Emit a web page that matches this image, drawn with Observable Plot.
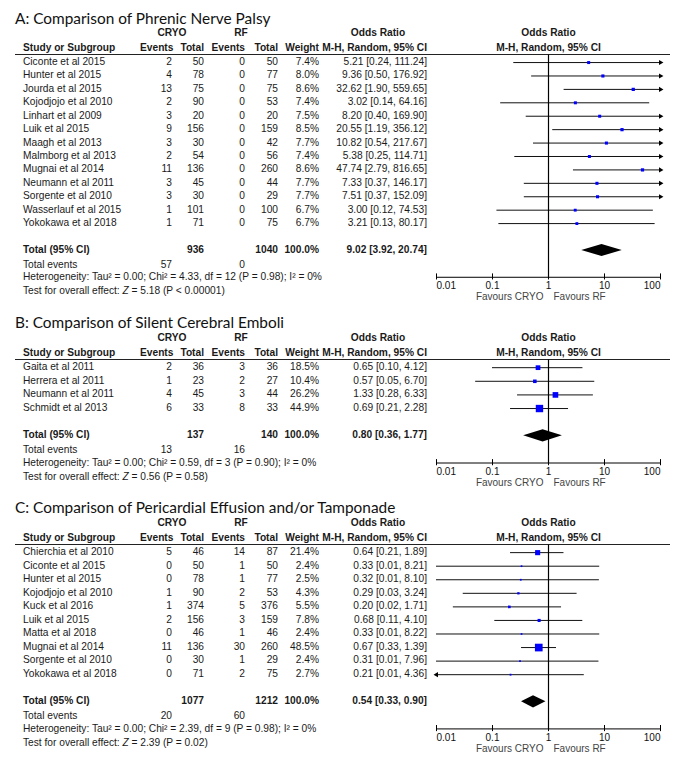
<!DOCTYPE html>
<html><head><meta charset="utf-8">
<script src="https://cdn.jsdelivr.net/npm/d3@7"></script>
<script src="https://cdn.jsdelivr.net/npm/@observablehq/plot@0.6"></script>
<style>
body{margin:0;background:#fff;}
#root{position:relative;width:676px;height:759px;overflow:hidden;background:#fff;font-family:"Liberation Sans",Arial,sans-serif;font-size:10.2px;color:#1a1a1a;}
.title{position:absolute;left:15px;height:20px;line-height:20px;font-family:Lato,"Open Sans",sans-serif;font-size:15.4px;color:#111;white-space:nowrap;}
.row{position:absolute;left:15px;width:655px;height:12px;line-height:12px;display:grid;grid-template-columns:125px 32px 32px 41px 33px 41px 108px 243px;white-space:nowrap;}
.row>span{text-align:right;overflow:visible;}
.row>span.first{text-align:left;padding-left:8px;}
.row>span.c{text-align:center;}
.row>span.or{text-align:center;padding-left:10px;}
.row.b{font-weight:bold;}
.hline{position:absolute;left:15px;width:655px;height:0;border-top:1px solid #222;}
.fp{position:absolute;left:427px;z-index:2;}
</style>
</head><body>
<div id="root"></div>
<script>
// ---------- Panel A: Phrenic Nerve Palsy ----------
const titleA = "A: Comparison of Phrenic Nerve Palsy";
const studiesA = ["Ciconte et al 2015","Hunter et al 2015","Jourda et al 2015","Kojodjojo et al 2010","Linhart et al 2009","Luik et al 2015","Maagh et al 2013","Malmborg et al 2013","Mugnai et al 2014","Neumann et al 2011","Sorgente et al 2010","Wasserlauf et al 2015","Yokokawa et al 2018"];
const cryoEventsA = [2,4,13,2,3,9,3,2,11,3,3,1,1];
const cryoTotalA = [50,78,75,90,20,156,30,54,136,45,30,101,71];
const rfEventsA = [0,0,0,0,0,0,0,0,0,0,0,0,0];
const rfTotalA = [50,77,75,53,20,159,42,56,260,44,29,100,75];
const weightA = [7.4,8.0,8.6,7.4,7.5,8.5,7.7,7.4,8.6,7.7,7.7,6.7,6.7];
const orA = [5.21,9.36,32.62,3.02,8.20,20.55,10.82,5.38,47.74,7.33,7.51,3.00,3.21];
const loA = [0.24,0.50,1.90,0.14,0.40,1.19,0.54,0.25,2.79,0.37,0.37,0.12,0.13];
const hiA = [111.24,176.92,559.65,64.16,169.90,356.12,217.67,114.71,816.65,146.17,152.09,74.53,80.17];
const totalsA = [936,1040,57,0];          // cryo total, rf total, cryo events, rf events
const overallA = [9.02,3.92,20.74];       // OR, lower, upper
const hetA = "Heterogeneity: Tau² = 0.00; Chi² = 4.33, df = 12 (P = 0.98); I² = 0%";
const testA = ["5.18","P < 0.00001"];

// ---------- Panel B: Silent Cerebral Emboli ----------
const titleB = "B: Comparison of Silent Cerebral Emboli";
const studiesB = ["Gaita et al 2011","Herrera et al 2011","Neumann et al 2011","Schmidt et al 2013"];
const cryoEventsB = [2,1,4,6];
const cryoTotalB = [36,23,45,33];
const rfEventsB = [3,2,3,8];
const rfTotalB = [36,27,44,33];
const weightB = [18.5,10.4,26.2,44.9];
const orB = [0.65,0.57,1.33,0.69];
const loB = [0.10,0.05,0.28,0.21];
const hiB = [4.12,6.70,6.33,2.28];
const totalsB = [137,140,13,16];
const overallB = [0.80,0.36,1.77];
const hetB = "Heterogeneity: Tau² = 0.00; Chi² = 0.59, df = 3 (P = 0.90); I² = 0%";
const testB = ["0.56","P = 0.58"];

// ---------- Panel C: Pericardial Effusion and/or Tamponade ----------
const titleC = "C: Comparison of Pericardial Effusion and/or Tamponade";
const studiesC = ["Chierchia et al 2010","Ciconte et al 2015","Hunter et al 2015","Kojodjojo et al 2010","Kuck et al 2016","Luik et al 2015","Matta et al 2018","Mugnai et al 2014","Sorgente et al 2010","Yokokawa et al 2018"];
const cryoEventsC = [5,0,0,1,1,2,0,11,0,0];
const cryoTotalC = [46,50,78,90,374,156,46,136,30,71];
const rfEventsC = [14,1,1,2,5,3,1,30,1,2];
const rfTotalC = [87,50,77,53,376,159,46,260,29,75];
const weightC = [21.4,2.4,2.5,4.3,5.5,7.8,2.4,48.5,2.4,2.7];
const orC = [0.64,0.33,0.32,0.29,0.20,0.68,0.33,0.67,0.31,0.21];
const loC = [0.21,0.01,0.01,0.03,0.02,0.11,0.01,0.33,0.01,0.0098];
const hiC = [1.89,8.21,8.10,3.24,1.71,4.10,8.22,1.39,7.96,4.36];
const totalsC = [1077,1212,20,60];
const overallC = [0.54,0.33,0.90];
const hetC = "Heterogeneity: Tau² = 0.00; Chi² = 2.39, df = 9 (P = 0.98); I² = 0%";
const testC = ["2.39","P = 0.02"];

const axisTicks = [0.01,0.1,1,10,100];
const nullEffect = 1;

const root = document.getElementById("root");
const f2 = v => v.toFixed(2);
const ciText = (o,l,h) => `${f2(o)} [${f2(l)}, ${f2(h)}]`;

function addRow(top, cells, bold) {
  const div = document.createElement("div");
  div.className = "row" + (bold ? " b" : "");
  div.style.top = (top - 6) + "px";
  cells.forEach(c => {
    const s = document.createElement("span");
    if (c.col) s.style.gridColumn = c.col;
    if (c.cls) s.className = c.cls;
    if (c.html != null) s.innerHTML = c.html; else s.textContent = c.text ?? "";
    div.appendChild(s);
  });
  root.appendChild(div);
}

function panel(p) {
  const n = p.names.length;
  const rows = p.names.map((name,i) => ({name, ce:p.ce[i], ct:p.ct[i], re:p.re[i], rt:p.rt[i], w:p.w[i], or:p.or[i], lo:p.lo[i], hi:p.hi[i], row:i}));
  const totalRow = n + 1, axisRow = n + 3;
  const mt = 2, mb = 30;
  const rangeEnd = mt + (axisRow + 0.6) * p.pitch;
  const H = Math.ceil(rangeEnd + mb);
  const svgTop = p.row0 - 0.6 * p.pitch - mt;
  const [oOR, oLo, oHi] = p.overall;
  const diamond = [
    {x:oLo, y1:totalRow, y2:totalRow},
    {x:oOR, y1:totalRow - 0.45, y2:totalRow + 0.45},
    {x:oHi, y1:totalRow, y2:totalRow}
  ];
  const refLine = [{x:nullEffect, y1:-0.6, y2:axisRow}];
  const plot = Plot.plot({
    width: 249, height: H,
    marginLeft: 9, marginRight: 16, marginTop: mt, marginBottom: H - rangeEnd,
    x: {type:"log", domain:[0.01,100], clamp:true, axis:null},
    y: {type:"linear", domain:[-0.6, axisRow], range:[mt, rangeEnd], axis:null},
    r: {type:"sqrt", domain:[0,50], range:[0,4.4]},
    style: {background:"transparent", fontFamily:"'Liberation Sans', Arial, sans-serif", fontSize:"10px", overflow:"visible"},
    marks: [
      Plot.ruleY(rows, {y:"row", x1:"lo", x2:"hi", stroke:"#111"}),
      Plot.link(refLine, {x1:"x", x2:"x", y1:"y1", y2:"y2", stroke:"#000", strokeWidth:1.2, strokeOpacity:1}),
      Plot.dot(rows.filter(d => d.hi > 100), {x:() => 100, y:"row", symbol:"triangle", rotate:90, r:1.9, fill:"#000", stroke:"none"}),
      Plot.dot(rows.filter(d => d.lo < 0.01), {x:() => 0.01, y:"row", symbol:"triangle", rotate:-90, r:1.9, fill:"#000", stroke:"none"}),
      Plot.dot(rows, {x:"or", y:"row", r:"w", symbol:"square", fill:"#0000ff", stroke:"none"}),
      Plot.areaY(diamond, {x:"x", y1:"y1", y2:"y2", fill:"#000"}),
      Plot.ruleY([axisRow], {y:d=>d, x1:0.01, x2:100, stroke:"#000"}),
      Plot.ruleX(axisTicks, {x:d=>d, y1:axisRow - 0.25, y2:axisRow + 0.2, stroke:"#000"}),
      Plot.text(axisTicks.slice(0,1), {x:d=>d, y:axisRow, dy:9, text:d=>String(d), textAnchor:"start", fill:"#111"}),
      Plot.text(axisTicks.slice(1,4), {x:d=>d, y:axisRow, dy:9, text:d=>String(d), textAnchor:"middle", fill:"#111"}),
      Plot.text(axisTicks.slice(4), {x:d=>d, y:axisRow, dy:9, text:d=>String(d), textAnchor:"end", fill:"#111"}),
      Plot.text(["Favours CRYO"], {x:() => nullEffect, y:axisRow, dx:-5, dy:20, text:d=>d, textAnchor:"end", fill:"#444"}),
      Plot.text(["Favours RF"], {x:() => nullEffect, y:axisRow, dx:5, dy:20, text:d=>d, textAnchor:"start", fill:"#444"})
    ]
  });
  const ys = plot.scale("y");
  const pageY = i => svgTop + ys.apply(i);

  // title
  const t = document.createElement("div");
  t.className = "title";
  t.textContent = p.title;
  t.style.top = (pageY(-3.3) - 10) + "px";
  root.appendChild(t);

  // header rows
  addRow(pageY(-2.15), [
    {text:"", cls:"first"},
    {text:"CRYO", col:"2 / 4", cls:"c"},
    {text:"RF", col:"4 / 6", cls:"c"},
    {text:"", col:"6"},
    {text:"Odds Ratio", col:"7", cls:"or"},
    {text:"Odds Ratio", col:"8", cls:"c"}
  ], true);
  addRow(pageY(-1.05), [
    {text:"Study or Subgroup", cls:"first"},
    {text:"Events"},{text:"Total"},{text:"Events"},{text:"Total"},{text:"Weight"},
    {text:"M-H, Random, 95% CI"},
    {text:"M-H, Random, 95% CI", cls:"c"}
  ], true);
  const hl = document.createElement("div");
  hl.className = "hline";
  hl.style.top = pageY(-0.6) + "px";
  root.appendChild(hl);

  rows.forEach(d => addRow(pageY(d.row), [
    {text:d.name, cls:"first"},
    {text:String(d.ce)},{text:String(d.ct)},{text:String(d.re)},{text:String(d.rt)},
    {text:d.w.toFixed(1) + "%"},
    {text:ciText(d.or, d.lo, d.hi)}
  ], false));

  const [cT, rT, cE, rE] = p.totals;
  addRow(pageY(totalRow), [
    {text:"Total (95% CI)", cls:"first"},
    {text:""},{text:String(cT)},{text:""},{text:String(rT)},
    {text:"100.0%"},
    {text:ciText(oOR, oLo, oHi)}
  ], true);
  addRow(pageY(n + 2.1), [
    {text:"Total events", cls:"first"},
    {text:String(cE)},{text:""},{text:String(rE)}
  ], false);
  addRow(pageY(n + 3.05), [{text:p.het, cls:"first", col:"1 / -1"}], false);
  addRow(pageY(n + 4.05), [{html:`Test for overall effect: <i>Z</i> = ${p.test[0]} (${p.test[1].replace("<","&lt;")})`, cls:"first", col:"1 / -1"}], false);

  plot.classList.add("fp");
  plot.style.top = svgTop + "px";
  root.appendChild(plot);
}

panel({title:titleA, names:studiesA, ce:cryoEventsA, ct:cryoTotalA, re:rfEventsA, rt:rfTotalA, w:weightA, or:orA, lo:loA, hi:hiA, totals:totalsA, overall:overallA, het:hetA, test:testA, row0:62, pitch:13.42});
panel({title:titleB, names:studiesB, ce:cryoEventsB, ct:cryoTotalB, re:rfEventsB, rt:rfTotalB, w:weightB, or:orB, lo:loB, hi:hiB, totals:totalsB, overall:overallB, het:hetB, test:testB, row0:367, pitch:13.62});
panel({title:titleC, names:studiesC, ce:cryoEventsC, ct:cryoTotalC, re:rfEventsC, rt:rfTotalC, w:weightC, or:orC, lo:loC, hi:hiC, totals:totalsC, overall:overallC, het:hetC, test:testC, row0:552, pitch:13.56});
</script>
</body></html>
